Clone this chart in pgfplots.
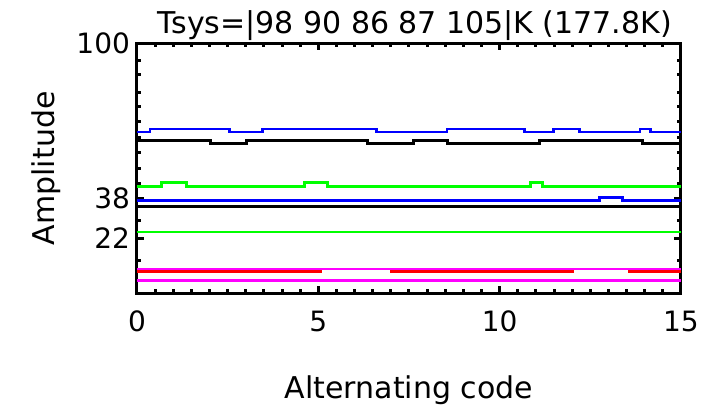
\documentclass[border=0pt]{standalone}
\usepackage{fontspec}
\setmainfont{DejaVu Sans}
\usepackage{pgfplots}
\pgfplotsset{compat=1.18}
\definecolor{cblue}{RGB}{0,0,255}
\definecolor{cgreen}{RGB}{0,255,0}
\definecolor{cmag}{RGB}{255,0,255}
\definecolor{cred}{RGB}{255,0,0}
\begin{document}
\begin{tikzpicture}
\begin{axis}[
  scale only axis, width=272pt, height=125pt,
  xmin=0, xmax=15, ymin=0, ymax=100,
  xtick={0,5,10,15}, minor x tick num=9,
  ytick={22,38,100},
  minor ytick={13.3,29.3,44.1,50.1,56.5,62.5,68.9,74.9,80.5,87.7,93.3},
  major tick length=3.5pt, minor tick length=2pt,
  every tick/.style={black, line width=1.5pt},
  axis line style={line width=1.5pt},
  /pgf/number format/assume math mode=true,
  tick label style={font=\fontsize{14}{16}\selectfont},
  xticklabel style={yshift=-5.3pt},
  label style={font=\fontsize{15}{18}\selectfont},
  xlabel={Alternating code}, ylabel={Amplitude},
  xlabel style={at={(axis description cs:0.5,-0.42)}, anchor=base},
  ylabel style={at={(axis description cs:-0.152,0.5)}, anchor=base},
  every axis title shift=0pt,
  title={Tsys=|98 90 86 87 105|K (177.8K)},
  title style={font=\fontsize{15}{18}\selectfont, at={(axis description cs:0.5,1)}, anchor=base, yshift=5pt, xshift=3pt},
  const plot,
  every axis plot/.append style={line cap=butt, line join=miter},
]
% upper black
\addplot[black, line width=1.5pt] coordinates {(0,61.2)(2.02,60.0)(3.03,61.2)(6.35,60.0)(7.62,61.2)(8.56,60.0)(11.09,61.2)(13.94,60.0)(15,60.0)};
% upper blue
\addplot[cblue, line width=1.4pt] coordinates {(0,64.52)(0.36,65.72)(2.55,64.52)(3.45,65.72)(6.60,64.52)(8.55,65.72)(10.69,64.52)(11.48,65.72)(12.21,64.52)(13.87,65.72)(14.17,64.52)(15,64.52)};
% upper green
\addplot[cgreen, line width=1.5pt] coordinates {(0,42.92)(0.68,44.24)(1.37,42.92)(4.61,44.24)(5.24,42.92)(10.86,44.24)(11.18,42.92)(15,42.92)};
% lower black
\addplot[black, line width=1.4pt] coordinates {(0,34.8)(15,34.8)};
% lower blue
\addplot[cblue, line width=1.5pt] coordinates {(0,37.32)(12.76,38.4)(13.39,37.32)(15,37.32)};
% lower green
\addplot[cgreen, line width=1pt] coordinates {(0,24.64)(15,24.64)};
% magenta
\addplot[cmag, line width=1pt] coordinates {(0,9.72)(15,9.72)};
\addplot[cmag, line width=1.3pt] coordinates {(0,5.2)(15,5.2)};
% red segments
\addplot[cred, line width=1.5pt] coordinates {(0,8.8)(5.10,8.8)};
\addplot[cred, line width=1.5pt] coordinates {(6.99,8.8)(12.04,8.8)};
\addplot[cred, line width=1.5pt] coordinates {(13.54,8.8)(15,8.8)};
\end{axis}
\pgfresetboundingbox
\useasboundingbox (-68.5pt,-57.85pt) rectangle (286pt,146.65pt);
\end{tikzpicture}
\end{document}
